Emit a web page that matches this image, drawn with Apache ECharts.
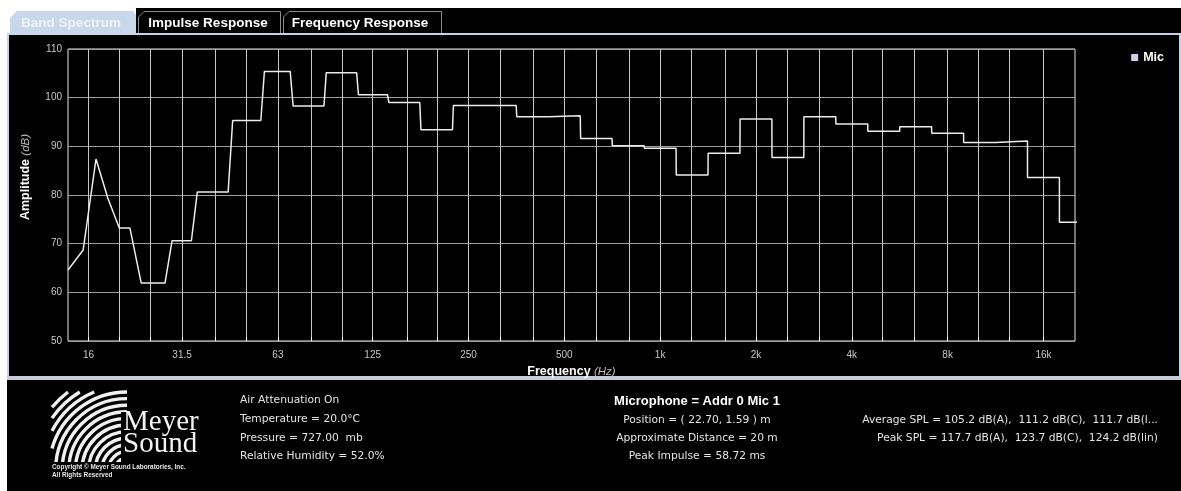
<!DOCTYPE html>
<html>
<head>
<meta charset="utf-8">
<script src="https://cdn.jsdelivr.net/npm/echarts@6/dist/echarts.min.js"></script>
<style>
  html, body { margin: 0; padding: 0; background: #ffffff; }
  #chart { width: 1181px; height: 491px; }
</style>
</head>
<body>
<div id="chart"></div>
<script>
// Third-octave grid lines (nominal centre frequencies, Hz)
const gridHz = [16, 20, 25, 31.5, 40, 50, 63, 80, 100, 125, 160, 200, 250, 315, 400, 500, 630, 800,
  1000, 1250, 1600, 2000, 2500, 3150, 4000, 5000, 6300, 8000, 10000, 12500, 16000];
// Octave labels under the plot
const labelHz = [16, 31.5, 63, 125, 250, 500, 1000, 2000, 4000, 8000, 16000];
const labelText = ['16', '31.5', '63', '125', '250', '500', '1k', '2k', '4k', '8k', '16k'];

// Low-frequency part of the trace, where the analyser resolution is coarse
const lowHz = [13.8, 15.4, 16.9, 18.4, 20.0, 21.6];
const lowDb = [64.6, 68.7, 87.4, 79.4, 73.2, 73.2];

// Third-octave band levels, dB
const bandHz = [25, 31.5, 40, 50, 63, 80, 100, 125, 160, 200, 250, 315, 400, 500, 630, 800,
  1000, 1250, 1600, 2000, 2500, 3150, 4000, 5000, 6300, 8000, 10000, 12500, 16000, 20000];
const bandDb = [61.9, 70.6, 80.6, 95.3, 105.4, 98.3, 105.1, 100.6, 99.0, 93.4, 98.4, 98.4, 96.1, 96.3,
  91.6, 90.1, 89.6, 84.1, 88.6, 95.6, 87.7, 96.1, 94.6, 93.1, 94.0, 92.7, 90.8, 91.1, 83.6, 74.4];

// Analyser FFT bin spacing (48 kHz, 32k points)
const binWidth = 48000 / 32768;

// Frequency axis is drawn in octaves relative to 1 kHz
const oct = f => Math.log2(f / 1000);

// Build the trace: low-frequency samples, then each band held flat over
// the FFT bins that fall inside its exact base-2 band edges
const trace = lowHz.map((f, i) => [oct(f), lowDb[i]]);
bandHz.forEach((f, i) => {
  const n = Math.round(3 * Math.log2(f / 1000));
  const lo = 1000 * Math.pow(2, (2 * n - 1) / 6);
  const hi = 1000 * Math.pow(2, (2 * n + 1) / 6);
  const first = Math.ceil(lo / binWidth) * binWidth;
  const last = Math.floor(hi / binWidth) * binWidth;
  trace.push([oct(first), bandDb[i]], [oct(last), bandDb[i]]);
});

const labelVals = labelHz.map(oct);

// Logo stripes: concentric arcs trimmed to the logo box
const logoArcs = [];
(function () {
  const cx = 127, cy = 470, left = 52, top = 392;
  for (let r = 12; r <= 104; r += 6.6) {
    const phiLo = Math.acos(Math.min(1, (cx - left) / r));
    const phiHi = Math.asin(Math.min(1, (cy - top) / r));
    if (phiLo >= phiHi) continue;
    logoArcs.push({
      type: 'arc', silent: true, z: 5,
      shape: { cx: cx, cy: cy, r: r, startAngle: Math.PI + phiLo, endAngle: Math.PI + phiHi, clockwise: true },
      style: { stroke: '#f0f0f0', lineWidth: 3.4, fill: null }
    });
  }
})();

const infoFont = '"DejaVu Sans", Verdana, sans-serif';
const sideText = (x, y, text, align) => ({
  type: 'text', x: x, y: y, z: 5, silent: true,
  style: { text: text, fill: '#e4e4e4', font: '10.7px ' + infoFont, textAlign: align, textVerticalAlign: 'middle' }
});

const chart = echarts.init(document.getElementById('chart'), null, { renderer: 'canvas' });

chart.setOption({
  backgroundColor: '#ffffff',
  animation: false,
  grid: {
    left: 68, right: 106, top: 49, bottom: 150,
    show: true, borderColor: '#e8e8e8', borderWidth: 1, backgroundColor: 'transparent'
  },
  legend: {
    right: 12, top: 46,
    icon: 'rect', itemWidth: 7, itemHeight: 7, itemGap: 4,
    textStyle: { color: '#ffffff', fontWeight: 'bold', fontSize: 12.5, fontFamily: 'Liberation Sans, Arial, sans-serif' },
    data: [{ name: 'Mic', itemStyle: { color: '#c9d6ea', borderWidth: 0 } }]
  },
  xAxis: {
    type: 'value',
    min: oct(13.8), max: oct(20100),
    axisLine: { show: false },
    axisTick: { show: true, inside: true, length: 4, customValues: gridHz.map(oct), lineStyle: { color: '#ffffff' } },
    splitLine: { show: true, lineStyle: { color: '#c6c6c6', width: 1 } },
    axisLabel: {
      customValues: labelVals,
      margin: 9,
      color: '#c8c8c8', fontSize: 10, fontFamily: 'Liberation Sans, Arial, sans-serif',
      formatter: v => {
        let k = 0;
        labelVals.forEach((lv, i) => { if (Math.abs(lv - v) < Math.abs(labelVals[k] - v)) k = i; });
        return labelText[k];
      }
    },
    name: '{b|Frequency} {i|(Hz)}',
    nameLocation: 'middle', nameGap: 19,
    nameTextStyle: {
      rich: {
        b: { color: '#ffffff', fontWeight: 'bold', fontSize: 12.5, fontFamily: 'Liberation Sans, Arial, sans-serif' },
        i: { color: '#bdbdbd', fontStyle: 'italic', fontSize: 11.5, fontFamily: 'Liberation Sans, Arial, sans-serif' }
      }
    }
  },
  yAxis: {
    type: 'value', min: 50, max: 110, interval: 10,
    axisLine: { show: false },
    axisTick: { show: false },
    splitLine: { show: true, lineStyle: { color: '#9e9e9e', width: 1 } },
    axisLabel: { margin: 6, color: '#c8c8c8', fontSize: 10, fontFamily: 'Liberation Sans, Arial, sans-serif' },
    name: '{b|Amplitude} {i|(dB)}',
    nameLocation: 'middle', nameGap: 36,
    nameTextStyle: {
      padding: [0, 0, 0, 36],
      rich: {
        b: { color: '#ffffff', fontWeight: 'bold', fontSize: 12.5, fontFamily: 'Liberation Sans, Arial, sans-serif' },
        i: { color: '#bdbdbd', fontStyle: 'italic', fontSize: 11.5, fontFamily: 'Liberation Sans, Arial, sans-serif' }
      }
    }
  },
  series: [{
    name: 'Mic',
    type: 'line',
    data: trace,
    showSymbol: false,
    lineStyle: { color: '#ececec', width: 1.5 },
    itemStyle: { color: '#c9d6ea' }
  }],
  graphic: [
    // dark panels
    { type: 'rect', z: -10, silent: true, shape: { x: 136, y: 8, width: 1045, height: 28 }, style: { fill: '#000000' } },
    { type: 'rect', z: -10, silent: true, shape: { x: 7, y: 34, width: 1174, height: 457 }, style: { fill: '#000000' } },
    // panel frame
    { type: 'rect', z: -9, silent: true, shape: { x: 7, y: 33, width: 1174, height: 2 }, style: { fill: '#c6d3e6' } },
    { type: 'rect', z: -9, silent: true, shape: { x: 7, y: 33, width: 2, height: 346 }, style: { fill: '#c6d3e6' } },
    { type: 'rect', z: -9, silent: true, shape: { x: 1179, y: 33, width: 2, height: 346 }, style: { fill: '#c6d3e6' } },
    { type: 'rect', z: -9, silent: true, shape: { x: 7, y: 376, width: 1174, height: 4 }, style: { fill: '#c4ccd8' } },
    // tabs
    { type: 'polygon', z: -8, silent: true,
      shape: { points: [[10, 35], [10, 18], [17, 11], [133, 11], [136, 15], [136, 35]] },
      style: { fill: '#c9d7eb' } },
    { type: 'text', z: -7, silent: true, x: 71, y: 23,
      style: { text: 'Band Spectrum', fill: '#edf2fa', font: 'bold 13.5px "Liberation Sans", Arial, sans-serif', textAlign: 'center', textVerticalAlign: 'middle' } },
    { type: 'polyline', z: -8, silent: true,
      shape: { points: [[138.5, 33], [138.5, 17], [144, 11.5], [280.5, 11.5], [280.5, 33]] },
      style: { stroke: '#8c8c8c', lineWidth: 1, fill: null } },
    { type: 'text', z: -7, silent: true, x: 208, y: 23,
      style: { text: 'Impulse Response', fill: '#ffffff', font: 'bold 13.5px "Liberation Sans", Arial, sans-serif', textAlign: 'center', textVerticalAlign: 'middle' } },
    { type: 'polyline', z: -8, silent: true,
      shape: { points: [[283.5, 33], [283.5, 17], [289, 11.5], [441.5, 11.5], [441.5, 33]] },
      style: { stroke: '#8c8c8c', lineWidth: 1, fill: null } },
    { type: 'text', z: -7, silent: true, x: 360, y: 23,
      style: { text: 'Frequency Response', fill: '#ffffff', font: 'bold 13.5px "Liberation Sans", Arial, sans-serif', textAlign: 'center', textVerticalAlign: 'middle' } },
    // logo
    ...logoArcs,
    { type: 'rect', z: 6, silent: true, shape: { x: 121, y: 412, width: 80, height: 50 }, style: { fill: '#000000' } },
    { type: 'text', z: 7, silent: true, x: 123, y: 437,
      style: { text: 'Meyer', fill: '#f2f2f2', font: '29px "Liberation Serif", "DejaVu Serif", serif', textAlign: 'left', textVerticalAlign: 'bottom' } },
    { type: 'text', z: 7, silent: true, x: 123, y: 459,
      style: { text: 'Sound', fill: '#f2f2f2', font: '29px "Liberation Serif", "DejaVu Serif", serif', textAlign: 'left', textVerticalAlign: 'bottom' } },
    { type: 'rect', z: 6, silent: true, shape: { x: 48, y: 462, width: 160, height: 20 }, style: { fill: '#000000' } },
    { type: 'text', z: 7, silent: true, x: 52, y: 467,
      style: { text: 'Copyright \u00A9 Meyer Sound Laboratories, Inc.', fill: '#e8e8e8', font: 'bold 6.4px "Liberation Sans", Arial, sans-serif', textAlign: 'left', textVerticalAlign: 'middle' } },
    { type: 'text', z: 7, silent: true, x: 52, y: 475,
      style: { text: 'All Rights Reserved', fill: '#e8e8e8', font: 'bold 6.4px "Liberation Sans", Arial, sans-serif', textAlign: 'left', textVerticalAlign: 'middle' } },
    // measurement conditions
    sideText(240, 400, 'Air Attenuation On', 'left'),
    sideText(240, 419, 'Temperature = 20.0\u00B0C', 'left'),
    sideText(240, 438, 'Pressure = 727.00  mb', 'left'),
    sideText(240, 456, 'Relative Humidity = 52.0%', 'left'),
    // microphone
    { type: 'text', z: 5, silent: true, x: 697, y: 401,
      style: { text: 'Microphone = Addr 0 Mic 1', fill: '#ffffff', font: 'bold 13px "Liberation Sans", Arial, sans-serif', textAlign: 'center', textVerticalAlign: 'middle' } },
    sideText(697, 420, 'Position = ( 22.70, 1.59 ) m', 'center'),
    sideText(697, 438, 'Approximate Distance = 20 m', 'center'),
    sideText(697, 456, 'Peak Impulse = 58.72 ms', 'center'),
    // levels
    sideText(1158, 420, 'Average SPL = 105.2 dB(A),  111.2 dB(C),  111.7 dB(l...', 'right'),
    sideText(1158, 438, 'Peak SPL = 117.7 dB(A),  123.7 dB(C),  124.2 dB(lin)', 'right')
  ]
});
</script>
</body>
</html>
